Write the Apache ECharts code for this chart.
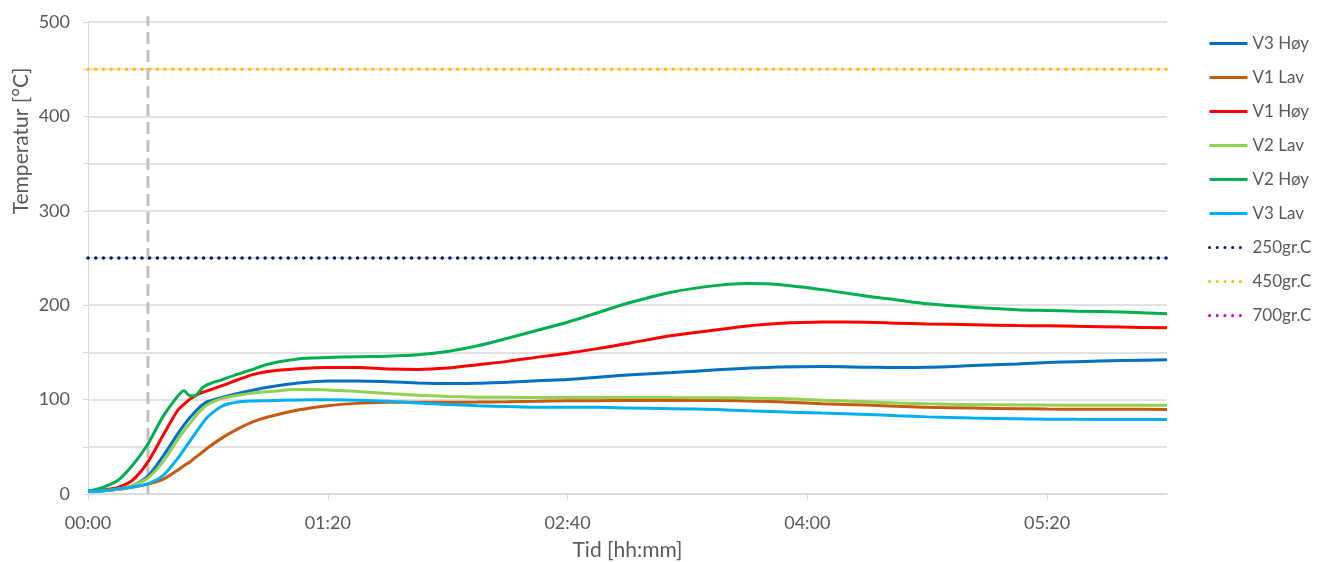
<!DOCTYPE html>
<html>
<head>
<meta charset="utf-8">
<title>Temperatur</title>
<script src="https://cdn.jsdelivr.net/npm/echarts@6/dist/echarts.min.js"></script>
<style>
  html, body { margin: 0; padding: 0; background: #ffffff; }
  #chart { width: 1317px; height: 562px; }
</style>
</head>
<body>
<div id="chart"></div>
<script>
// Sample times in minutes from start of test
const minutes = [0, 5, 10, 15, 20, 25, 30, 32, 34, 36, 38, 40, 45, 50, 55, 60, 70, 80, 90, 100,
  110, 120, 130, 140, 150, 160, 170, 180, 195, 210, 220, 230, 245, 260, 270, 280, 295, 310, 320, 330, 345, 360];

// Measured temperatures [°C] at each sample time
const v3Hoy = [3, 3.5, 5, 9, 19, 40, 64, 73, 81, 88, 94, 98, 102.5, 106.5, 110, 113, 117.5, 119.8, 119.8, 119,
  117.7, 117, 117.2, 118.5, 120, 121.2, 123.6, 126, 128.6, 131.5, 133.2, 134.5, 135, 134.3, 133.9, 134.2, 136, 137.8, 139.3, 140.2, 141.4, 142.2];
const v1Lav = [3, 3.5, 5, 7.5, 10.5, 15.5, 25.5, 30, 34, 39, 44, 49, 60, 69, 76.5, 81.5, 89, 93.6, 96, 97.1,
  97.3, 97.3, 97.4, 97.8, 98.3, 98.9, 98.9, 99, 99, 99, 98.6, 97.8, 95.7, 94.2, 92.9, 91.8, 91, 90.4, 90, 89.8, 89.7, 89.6];
const v1Hoy = [3, 4.5, 7, 15, 34, 62, 89, 95, 100.5, 104.5, 107.5, 109.5, 115, 121, 126.5, 129.8, 132.6, 134, 134, 132.5,
  132, 133.5, 137, 140.5, 145, 149.2, 154, 159.5, 167.8, 174, 177.9, 180.5, 182.1, 182, 181, 180.2, 179.3, 178.5, 178.2, 177.6, 176.8, 176];
const v2Lav = [3, 3.5, 5, 9, 17, 34, 58, 67, 75, 83, 89.5, 95, 101.5, 104.5, 107, 108.4, 110.6, 110.3, 108.5, 106.5,
  104.5, 103.3, 102.6, 102.4, 102.3, 102.3, 102.3, 102.2, 102.1, 102, 101.8, 101.2, 99.3, 97.6, 96.4, 95.5, 94.6, 94.4, 94.2, 94.1, 94, 94];
const v2Hoy = [3, 7, 14.5, 31, 53, 82, 104, 109.5, 104, 104.5, 112, 116, 121.5, 127, 132, 137.5, 143, 144.5, 145.5, 146,
  147.5, 151, 157, 165, 173.5, 182, 192, 202, 214, 221, 223, 222, 216.5, 209.5, 205.5, 201.5, 197.8, 195.3, 194.5, 193.7, 192.7, 191];
const v3Lav = [3, 3.5, 5.5, 7.5, 11, 19.5, 38, 47, 56, 65, 74, 82, 93.5, 97.5, 98.6, 98.9, 99.6, 99.9, 99.4, 98.3,
  96.5, 94.8, 93.6, 92.6, 92, 91.8, 91.8, 91.2, 90.4, 89.4, 88.2, 87.2, 85.7, 84.3, 82.9, 81.7, 80.4, 79.8, 79.3, 79.1, 79, 78.9];

// Reference temperature levels [°C]
const limit250 = 250;
const limit450 = 450;
const limit700 = 700;

// Time of the vertical marker [min]
const markerMinute = 20;

// Axis ranges and labelled ticks
const timeMax = 360;
const tempMax = 500;
const timeTicks = [0, 80, 160, 240, 320];
const tempMinorTicks = [0, 50, 100, 150, 200, 250, 300, 350, 400, 450, 500];

const pad = n => String(n).padStart(2, '0');
const hhmm = v => pad(Math.floor(v / 60)) + ':' + pad(Math.round(v % 60));

const textColor = '#595959';
const gridColor = '#D9D9D9';
const fontFamily = 'Lato, "Open Sans", sans-serif';

const curves = [
  { name: 'V3 Høy', values: v3Hoy, color: '#0070C0' },
  { name: 'V1 Lav', values: v1Lav, color: '#C55A11' },
  { name: 'V1 Høy', values: v1Hoy, color: '#FF0000' },
  { name: 'V2 Lav', values: v2Lav, color: '#92D050' },
  { name: 'V2 Høy', values: v2Hoy, color: '#00B050' },
  { name: 'V3 Lav', values: v3Lav, color: '#00B0F0' }
];
const limits = [
  { name: '250gr.C', value: limit250, color: '#002060' },
  { name: '450gr.C', value: limit450, color: '#FFC000' },
  { name: '700gr.C', value: limit700, color: '#CC00CC' }
];

const series = [];
curves.forEach(c => {
  series.push({
    name: c.name,
    type: 'line',
    data: minutes.map((t, i) => [t, c.values[i]]),
    showSymbol: false,
    symbol: 'none',
    smooth: 0.3,
    color: c.color,
    lineStyle: { width: 3, color: c.color },
    emphasis: { disabled: true }
  });
});
limits.forEach(l => {
  series.push({
    name: l.name,
    type: 'line',
    data: [[0, l.value], [timeMax, l.value]],
    showSymbol: false,
    symbol: 'none',
    color: l.color,
    lineStyle: { width: 3.5, color: l.color, type: [0.1, 7.6], cap: 'round' },
    emphasis: { disabled: true }
  });
});
// Vertical dashed marker, reaching slightly above the plot top
series.push({
  name: 'marker',
  type: 'line',
  data: [[markerMinute, 0], [markerMinute, 506]],
  clip: false,
  showSymbol: false,
  symbol: 'none',
  color: '#BFBFBF',
  lineStyle: { width: 3, color: '#BFBFBF', type: [12, 6] },
  emphasis: { disabled: true },
  z: 1
});

const chart = echarts.init(document.getElementById('chart'), null, { renderer: 'canvas' });
chart.setOption({
  animation: false,
  backgroundColor: '#ffffff',
  textStyle: { fontFamily: fontFamily },
  grid: { left: 88, right: 150, top: 22, bottom: 68, containLabel: false, outerBoundsMode: 'none' },
  legend: {
    orient: 'vertical',
    left: 1208,
    top: 35,
    padding: 0,
    itemWidth: 38,
    itemHeight: 14,
    itemGap: 17,
    itemStyle: { opacity: 0 },
    lineStyle: { width: 3 },
    data: curves.map(c => c.name).concat(limits.map(l => l.name)),
    textStyle: { fontSize: 17, color: textColor, fontFamily: fontFamily }
  },
  xAxis: {
    type: 'value',
    min: 0,
    max: timeMax,
    interval: 80,
    name: 'Tid [hh:mm]',
    nameLocation: 'middle',
    nameGap: 46,
    nameTextStyle: { fontSize: 21, color: textColor, fontFamily: fontFamily },
    axisLine: { show: true, lineStyle: { color: gridColor, width: 1.5 } },
    axisTick: { show: true, length: 6, customValues: timeTicks, lineStyle: { color: gridColor } },
    axisLabel: {
      customValues: timeTicks,
      formatter: v => hhmm(v),
      fontSize: 18,
      color: textColor,
      margin: 20,
      fontFamily: fontFamily
    },
    splitLine: { show: false }
  },
  yAxis: {
    type: 'value',
    min: 0,
    max: tempMax,
    interval: 100,
    axisLine: { show: true, lineStyle: { color: gridColor, width: 1 } },
    axisTick: { show: true, length: 5, customValues: tempMinorTicks, lineStyle: { color: gridColor } },
    axisLabel: {
      fontSize: 18,
      color: textColor,
      margin: 18,
      fontFamily: fontFamily
    },
    splitLine: { show: true, lineStyle: { color: gridColor, width: 1.5 } }
  },
  graphic: [{
    type: 'text',
    x: 21,
    y: 141,
    rotation: Math.PI / 2,
    style: {
      text: 'Temperatur [°C]',
      fill: textColor,
      font: '21px ' + fontFamily,
      align: 'center',
      verticalAlign: 'middle'
    }
  }],
  series: series
});
</script>
</body>
</html>
